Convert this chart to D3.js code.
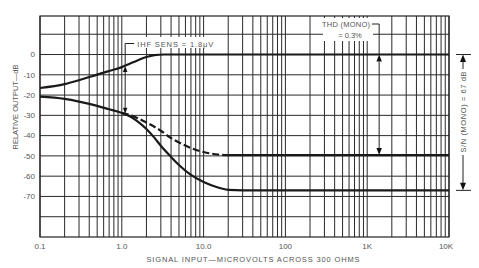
<!DOCTYPE html>
<html>
<head>
<meta charset="utf-8">
<script src="https://cdn.jsdelivr.net/npm/d3@7"></script>
<style>
  body { margin: 0; background: #fff; }
  text { font-family: "Liberation Sans", Arial, sans-serif; fill: #555; }
</style>
</head>
<body>
<div id="chart"></div>
<script>
const width = 479, height = 268;
const margin = {top: 16, right: 30, bottom: 31, left: 40};
const innerW = width - margin.left - margin.right,
      innerH = height - margin.top - margin.bottom;

// axis labels
const xTickVals = [0.1, 1, 10, 100, 1000, 10000];
const xTickLabels = ["0.1", "1.0", "10.0", "100", "1K", "10K"];
const yTickVals = [0, -10, -20, -30, -40, -50, -60, -70];
const yGridVals = [10, 0, -10, -20, -30, -40, -50, -60, -70, -80];

// upper curve (signal)
const upperX  = [0.1, 0.2, 0.3, 0.5, 0.7, 1.0, 1.4, 2.0, 2.5, 3.3, 10, 100, 1000, 10000];
const upperDb = [-16.5, -14.6, -12.7, -9.9, -8.1, -6.2, -3.7, -1.2, -0.3, 0, 0, 0, 0, 0];

// lower solid curve (noise, mono)
const lowerX  = [0.1, 0.2, 0.3, 0.5, 0.7, 1.0, 1.3, 1.6, 2.0, 2.5, 3.0, 4.0, 5.0, 7.0, 10, 15, 20, 30, 100, 1000, 10000];
const lowerDb = [-20.8, -21.9, -23.2, -25.3, -27.0, -28.8, -30.8, -33.3, -36.7, -41.0, -45.0, -50.5, -54.5, -59.4, -62.9, -65.6, -66.8, -67, -67, -67, -67];

// dashed curve (noise, stereo)
const dashX  = [1.0, 1.3, 1.6, 2.0, 3.0, 4.0, 5.0, 7.0, 10, 15, 20, 30, 100, 1000, 10000];
const dashDb = [-28.8, -30.0, -31.5, -33.5, -37.6, -41.2, -43.4, -46.1, -48.1, -49.3, -49.6, -49.6, -49.6, -49.6, -49.6];

// annotations
const ihfX = 1.1, ihfTop = -5.6, ihfBottom = -29.2;
const thdX = 1400, thdTop = 0, thdBottom = -49.6;
const snTop = 0, snBottom = -67;

const svg = d3.select('#chart')
  .append('svg')
  .attr("width", width)
  .attr("height", height)
  .append("g")
  .attr("transform", "translate(" + margin.left + "," + margin.top + ")");

const x = d3.scaleLog().domain([0.1, 10000]).range([0, innerW]);
const y = d3.scaleLinear().domain([-90, 19]).range([innerH, 0]);

// grid
svg.append("g").selectAll("line")
  .data(x.ticks())
  .enter().append("line")
  .attr("x1", d => x(d)).attr("x2", d => x(d))
  .attr("y1", 0).attr("y2", innerH)
  .attr("stroke", "#2a2a2a").attr("stroke-width", 1);

svg.append("g").selectAll("line")
  .data(yGridVals)
  .enter().append("line")
  .attr("x1", 0).attr("x2", innerW)
  .attr("y1", d => y(d)).attr("y2", d => y(d))
  .attr("stroke", "#2a2a2a").attr("stroke-width", 1);

svg.append("rect")
  .attr("width", innerW).attr("height", innerH)
  .attr("fill", "none").attr("stroke", "#222").attr("stroke-width", 1.2);

// tick labels
svg.append("g").selectAll("text")
  .data(yTickVals)
  .enter().append("text")
  .attr("x", -5).attr("y", d => y(d)).attr("dy", "0.35em")
  .attr("text-anchor", "end").attr("font-size", "8px")
  .text(d => d);

svg.append("g").selectAll("text")
  .data(xTickVals)
  .enter().append("text")
  .attr("x", (d, i) => x(d) - (i == xTickVals.length - 1 ? 3 : 0))
  .attr("y", innerH + 12)
  .attr("text-anchor", "middle").attr("font-size", "8px")
  .text((d, i) => xTickLabels[i]);

// axis titles
svg.append("text")
  .attr("x", 213).attr("y", innerH + 25)
  .attr("text-anchor", "middle").attr("font-size", "7.5px")
  .attr("textLength", 213).attr("lengthAdjust", "spacing")
  .text("SIGNAL INPUT\u2014MICROVOLTS ACROSS 300 OHMS");

svg.append("text")
  .attr("transform", "translate(-22," + 91 + ") rotate(-90)")
  .attr("text-anchor", "middle").attr("font-size", "7.5px")
  .attr("textLength", 85).attr("lengthAdjust", "spacing")
  .text("RELATIVE OUTPUT\u2014dB");

// curves
const line = d3.line().curve(d3.curveMonotoneX);
const pts = (xs, ys) => xs.map((v, i) => [x(v), y(ys[i])]);

svg.append("path")
  .attr("d", line(pts(upperX, upperDb)))
  .attr("fill", "none").attr("stroke", "#1a1a1a").attr("stroke-width", 2.2);

svg.append("path")
  .attr("d", line(pts(lowerX, lowerDb)))
  .attr("fill", "none").attr("stroke", "#1a1a1a").attr("stroke-width", 2.2);

const dashPts = pts(dashX, dashDb);
const cut = dashX.indexOf(20);
svg.append("path")
  .attr("d", line(dashPts.slice(0, cut + 1)))
  .attr("fill", "none").attr("stroke", "#1a1a1a").attr("stroke-width", 2.2)
  .attr("stroke-dasharray", "7,3");
svg.append("path")
  .attr("d", line(dashPts.slice(cut)))
  .attr("fill", "none").attr("stroke", "#1a1a1a").attr("stroke-width", 2.2);

// arrows
function arrowHead(g, px, tip, dir, w, l) {
  // dir -1 points up, +1 points down
  g.append("path")
    .attr("d", `M${px},${tip} L${px - w / 2},${tip - dir * l} L${px + w / 2},${tip - dir * l} Z`)
    .attr("fill", "#111");
}
function vline(g, px, y1, y2) {
  g.append("line").attr("x1", px).attr("x2", px).attr("y1", y1).attr("y2", y2)
    .attr("stroke", "#222").attr("stroke-width", 1);
}
function hline(g, x1, x2, py) {
  g.append("line").attr("x1", x1).attr("x2", x2).attr("y1", py).attr("y2", py)
    .attr("stroke", "#222").attr("stroke-width", 1);
}

const ann = svg.append("g");

// IHF sens
const ix = x(ihfX);
ann.append("rect").attr("x", 95).attr("y", 21).attr("width", 82).attr("height", 11).attr("fill", "#fff");
hline(ann, ix, ix + 9, 27.5);
vline(ann, ix, 27.5, y(ihfTop));
arrowHead(ann, ix, y(ihfTop), -1, 4.5, 6);
vline(ann, ix, y(ihfTop) + 6, y(ihfBottom) - 6);
arrowHead(ann, ix, y(ihfBottom), 1, 4.5, 6);
ann.append("text").attr("x", ix + 12).attr("y", 30.5).attr("font-size", "7.5px")
  .attr("textLength", 76).attr("lengthAdjust", "spacing")
  .text("IHF SENS = 1.8\u03bcV");

// THD
const tx = x(thdX);
ann.append("rect").attr("x", 283).attr("y", 2).attr("width", 50).attr("height", 23).attr("fill", "#fff");
ann.append("text").attr("x", 306).attr("y", 11).attr("text-anchor", "middle").attr("font-size", "7.5px")
  .attr("textLength", 48).attr("lengthAdjust", "spacing")
  .text("THD (MONO)");
ann.append("text").attr("x", 310).attr("y", 22).attr("text-anchor", "middle").attr("font-size", "7.5px")
  .text("= 0.3%");
hline(ann, 332, tx, 8);
vline(ann, tx, 8, y(thdTop));
arrowHead(ann, tx, y(thdTop), -1, 5.5, 7);
vline(ann, tx, y(thdTop) + 7, y(thdBottom) - 7);
arrowHead(ann, tx, y(thdBottom), 1, 5.5, 7);

// S/N
const sx = innerW + 14;
hline(ann, innerW + 7, innerW + 22, y(snTop));
hline(ann, innerW + 7, innerW + 22, y(snBottom));
arrowHead(ann, sx, y(snTop), -1, 6, 7.5);
arrowHead(ann, sx, y(snBottom), 1, 6, 7.5);
vline(ann, sx, y(snTop) + 7, 53);
vline(ann, sx, 139, y(snBottom) - 7);
ann.append("text")
  .attr("transform", `translate(${sx + 2.7},96) rotate(-90)`)
  .attr("text-anchor", "middle").attr("font-size", "7.5px")
  .attr("textLength", 81).attr("lengthAdjust", "spacing")
  .text("S/N (MONO) = 67 dB");
</script>
</body>
</html>
